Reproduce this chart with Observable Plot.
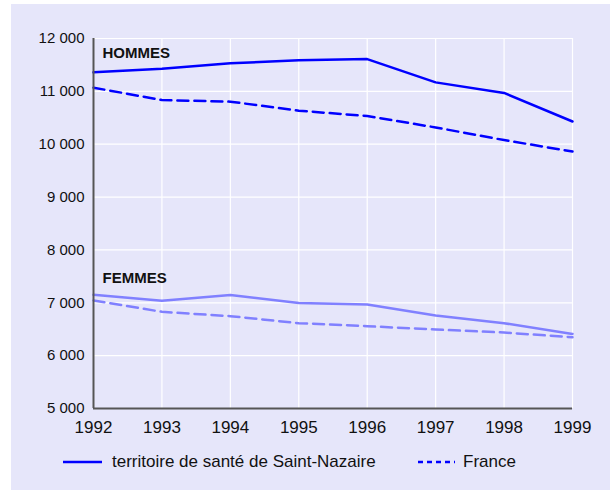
<!DOCTYPE html>
<html>
<head>
<meta charset="utf-8">
<script src="https://cdn.jsdelivr.net/npm/d3@7"></script>
<script src="https://cdn.jsdelivr.net/npm/@observablehq/plot@0.6"></script>
<style>
  html, body { margin: 0; padding: 0; background: #ffffff; width: 610px; height: 490px; overflow: hidden; }
  #panel { position: absolute; left: 11px; top: 4px; right: 0; bottom: 0; background: #e6e6fa; }
  #chart { position: absolute; left: 0; top: 0; }
  #legend { position: absolute; left: 0; top: 450px; width: 610px; height: 24px; font-family: "Liberation Sans", Arial, sans-serif; font-size: 17px; color: #111; }
  .item { position: absolute; top: 0; height: 24px; display: flex; align-items: center; }
  .item svg { margin-right: 9px; }
  #chart svg g[aria-label="y-axis tick label"] text { font-size: 15px; }
  #chart svg g[aria-label="x-axis tick label"] text { font-size: 17px; }
  #chart svg g[aria-label="text"] text { font-size: 15px; font-weight: bold; }
</style>
</head>
<body>
<div id="panel"></div>
<div id="chart"></div>
<div id="legend">
  <div class="item" style="left:63px"><svg width="40" height="6"><line x1="0" x2="39" y1="3" y2="3" stroke="#0000ff" stroke-width="2.5"/></svg><span>territoire de santé de Saint-Nazaire</span></div>
  <div class="item" style="left:418px"><svg width="38" height="6"><line x1="0" x2="37" y1="3" y2="3" stroke="#0000ff" stroke-width="2.5" stroke-dasharray="5,4"/></svg><span style="margin-left:-2px">France</span></div>
</div>
<script>
const years = [1992, 1993, 1994, 1995, 1996, 1997, 1998, 1999];
const hommesSaintNazaire = [11360, 11430, 11530, 11590, 11610, 11170, 10970, 10430];
const hommesFrance = [11070, 10836, 10805, 10634, 10533, 10317, 10078, 9862];
const femmesSaintNazaire = [7150, 7040, 7146, 6994, 6968, 6760, 6614, 6411];
const femmesFrance = [7044, 6829, 6747, 6614, 6557, 6494, 6437, 6348];
const yTicks = [5000, 6000, 7000, 8000, 9000, 10000, 11000, 12000];
const groupLabels = [
  {label: "HOMMES", year: 1992, value: 11716},
  {label: "FEMMES", year: 1992, value: 7460}
];

const rows = (vals) => years.map((y, i) => ({year: y, value: vals[i]}));
const fmt = d => d3.format(",")(d).replace(/,/g, " ");
const blue = "#0000ff";
const lightBlue = "#8080ff";
const dash = "11,6";

const chart = Plot.plot({
  width: 610,
  height: 440,
  marginLeft: 93,
  marginRight: 38,
  marginTop: 38,
  marginBottom: 32,
  style: {background: "transparent", fontFamily: "'Liberation Sans', Arial, sans-serif", color: "#111", fontSize: "15px"},
  x: {domain: [1992, 1999], type: "linear"},
  y: {domain: [5000, 12000]},
  marks: [
    Plot.gridX(years, {stroke: "#ffffff", strokeOpacity: 1, strokeWidth: 1.2}),
    Plot.gridY(yTicks, {stroke: "#ffffff", strokeOpacity: 1, strokeWidth: 1.2}),
    Plot.line(rows(hommesSaintNazaire), {x: "year", y: "value", stroke: blue, strokeWidth: 2.5}),
    Plot.line(rows(hommesFrance), {x: "year", y: "value", stroke: blue, strokeWidth: 2.5, strokeDasharray: dash}),
    Plot.line(rows(femmesSaintNazaire), {x: "year", y: "value", stroke: lightBlue, strokeWidth: 2.5}),
    Plot.line(rows(femmesFrance), {x: "year", y: "value", stroke: lightBlue, strokeWidth: 2.5, strokeDasharray: dash}),
    Plot.text(groupLabels, {x: "year", y: "value", text: "label", textAnchor: "start", dx: 9, fontWeight: "bold", fontSize: 15, fill: "#111"}),
    Plot.ruleX([1992], {stroke: "#555", strokeWidth: 2}),
    Plot.ruleY([5000], {stroke: "#555", strokeWidth: 2}),
    Plot.axisX({ticks: years, tickFormat: d => String(d), tickSize: 0, tickPadding: 12, fontSize: 17, label: null}),
    Plot.axisY({ticks: yTicks, tickFormat: fmt, tickSize: 0, tickPadding: 9, fontSize: 15, label: null})
  ]
});
document.getElementById("chart").appendChild(chart);
</script>
</body>
</html>
